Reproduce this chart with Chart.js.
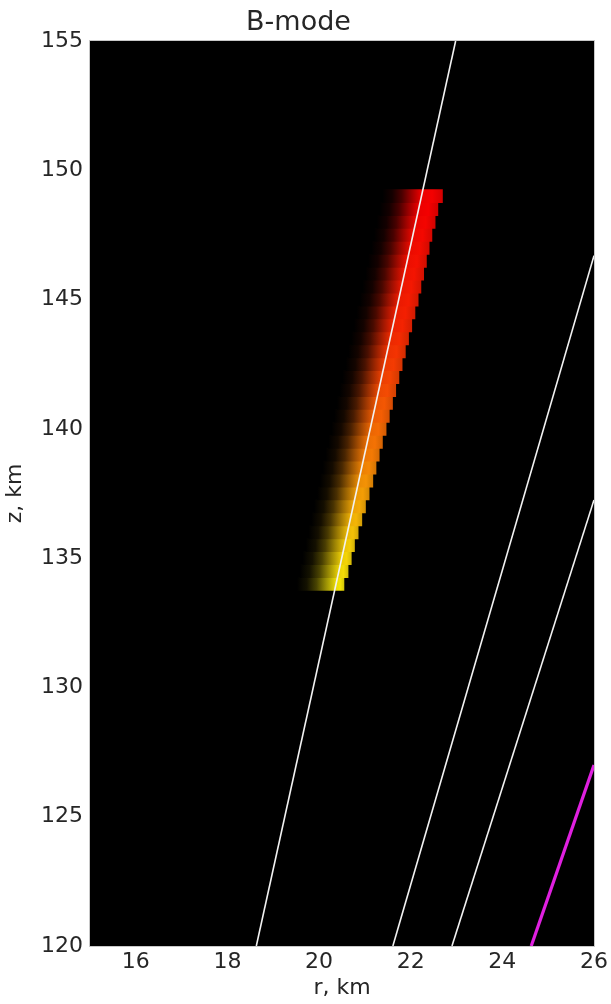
<!DOCTYPE html>
<html>
<head>
<meta charset="utf-8">
<script src="https://cdn.jsdelivr.net/npm/chart.js@4.4.1/dist/chart.umd.min.js"></script>
<style>
  html, body { margin: 0; padding: 0; background: #ffffff; }
  #wrap { width: 611px; height: 1004px; }
</style>
</head>
<body>
<div id="wrap"><canvas id="c" width="611" height="1004"></canvas></div>
<script>
// ---- tick labels ----
const xTicks = [16, 18, 20, 22, 24, 26];
const yTicks = [120, 125, 130, 135, 140, 145, 150, 155];

// ---- rays (r, km / z, km) ----
const ray1R = [18.63, 22.98];
const ray1Z = [120, 155];
const ray2R = [21.61, 26.0];
const ray2Z = [120, 146.7];
const ray3R = [22.90, 26.0];
const ray3Z = [120, 137.25];
const ray4R = [24.63, 26.0];
const ray4Z = [120, 127.0];

// ---- B-mode amplitude band: rows in z ----
const bandZ = [134.0, 134.5, 135.0, 135.5, 136.0, 136.5, 137.0, 137.5, 138.0, 138.5,
               139.0, 139.5, 140.0, 140.5, 141.0, 141.5, 142.0, 142.5, 143.0, 143.5,
               144.0, 144.5, 145.0, 145.5, 146.0, 146.5, 147.0, 147.5, 148.0, 148.5, 149.0];
const bandLeft = [19.52, 19.58, 19.64, 19.71, 19.77, 19.83, 19.89, 19.96, 20.02, 20.08,
                  20.14, 20.20, 20.27, 20.33, 20.39, 20.45, 20.51, 20.58, 20.64, 20.70,
                  20.76, 20.82, 20.89, 20.95, 21.01, 21.07, 21.14, 21.20, 21.26, 21.32, 21.38];
const bandRight = [20.55, 20.64, 20.71, 20.78, 20.86, 20.94, 21.02, 21.10, 21.18, 21.25,
                   21.32, 21.39, 21.47, 21.54, 21.61, 21.68, 21.75, 21.82, 21.89, 21.96,
                   22.03, 22.10, 22.17, 22.23, 22.29, 22.35, 22.41, 22.47, 22.54, 22.60, 22.70];
const bandPeak = [20.37, 20.43, 20.49, 20.56, 20.62, 20.68, 20.74, 20.81, 20.87, 20.93,
                  20.99, 21.05, 21.12, 21.18, 21.24, 21.30, 21.36, 21.43, 21.49, 21.55,
                  21.61, 21.67, 21.74, 21.80, 21.86, 21.92, 21.99, 22.05, 22.11, 22.17, 22.23];
const bandHue = [58, 56, 54, 52, 49, 46, 43, 40, 37, 34,
                 31, 29, 27, 24, 22, 19, 17, 15, 13, 11,
                 9, 8, 7, 6, 5, 4, 3, 2, 1, 0, 0];

function toPts(rs, zs) { return rs.map((r, i) => ({ x: r, y: zs[i] })); }

function rgb(hue, b) {
  const r = Math.round(244 * b);
  const g = Math.round(236 * (hue / 60) * b);
  const bl = Math.round(8 * (hue / 60) * b);
  return `rgb(${r},${g},${bl})`;
}

function bandFill(ctx) {
  const chart = ctx.chart;
  if (ctx.type !== 'data' || !chart.chartArea) return 'rgba(0,0,0,0)';
  const i = ctx.dataIndex;
  const xs = chart.scales.x;
  const x0 = xs.getPixelForValue(bandLeft[i]);
  const x1 = xs.getPixelForValue(bandRight[i]);
  const p = Math.min(0.98, Math.max(0.05, (bandPeak[i] - bandLeft[i]) / (bandRight[i] - bandLeft[i])));
  const h = bandHue[i];
  const g = chart.ctx.createLinearGradient(x0, 0, x1, 0);
  g.addColorStop(0, rgb(h, 0));
  g.addColorStop(p * 0.25, rgb(h, 0.08));
  g.addColorStop(p * 0.5, rgb(h, 0.3));
  g.addColorStop(p * 0.75, rgb(h, 0.64));
  g.addColorStop(p, rgb(h, 0.96));
  g.addColorStop(Math.min(0.99, p + (1 - p) * 0.5), rgb(h, 1));
  g.addColorStop(1, rgb(h, 0.86));
  return g;
}

const blackArea = {
  id: 'blackArea',
  beforeDatasetsDraw(chart) {
    const { ctx, chartArea: a } = chart;
    ctx.save();
    ctx.fillStyle = '#000000';
    ctx.fillRect(a.left, a.top, a.right - a.left, a.bottom - a.top);
    ctx.restore();
  },
  afterDatasetsDraw(chart) {
    const { ctx, chartArea: a } = chart;
    ctx.save();
    ctx.strokeStyle = '#c8c8c8';
    ctx.lineWidth = 1;
    ctx.strokeRect(a.left - 0.5, a.top - 0.5, a.right - a.left + 1, a.bottom - a.top + 1);
    ctx.restore();
  }
};

const FONT = 'DejaVu Sans';
const TXT = '#262626';

new Chart(document.getElementById('c'), {
  data: {
    datasets: [
      {
        type: 'bar',
        indexAxis: 'y',
        data: bandZ.map((z, i) => ({ y: z, x: [bandLeft[i], bandRight[i]] })),
        backgroundColor: bandFill,
        borderWidth: 0,
        barPercentage: 1.0,
        categoryPercentage: 1.06,
        order: 10
      },
      { type: 'line', data: toPts(ray1R, ray1Z), borderColor: '#f2f2f2', borderWidth: 1.6, pointRadius: 0, order: 1 },
      { type: 'line', data: toPts(ray2R, ray2Z), borderColor: '#f2f2f2', borderWidth: 1.6, pointRadius: 0, order: 1 },
      { type: 'line', data: toPts(ray3R, ray3Z), borderColor: '#f2f2f2', borderWidth: 1.6, pointRadius: 0, order: 1 },
      { type: 'line', data: toPts(ray4R, ray4Z), borderColor: '#e020e0', borderWidth: 3.2, pointRadius: 0, order: 1 }
    ]
  },
  options: {
    responsive: false,
    animation: false,
    devicePixelRatio: 1,
    layout: { padding: { left: 0, right: 14, top: 0, bottom: 0 } },
    plugins: {
      legend: { display: false },
      tooltip: { enabled: false },
      title: {
        display: true,
        text: 'B-mode',
        color: TXT,
        font: { family: FONT, size: 27, weight: 'normal', lineHeight: 1.2 },
        padding: { top: 6.5, bottom: 2.1 }
      }
    },
    scales: {
      x: {
        type: 'linear',
        min: 15, max: 26,
        offset: false,
        grid: { display: false, drawTicks: false, offset: false },
        border: { display: false },
        afterBuildTicks: s => { s.ticks = xTicks.map(v => ({ value: v })); },
        afterFit: s => { s.height = 58; },
        ticks: {
          color: TXT, padding: 3,
          font: { family: FONT, size: 22, lineHeight: 1.2 },
          maxRotation: 0, autoSkip: false
        },
        title: {
          display: true, text: 'r, km', color: TXT,
          font: { family: FONT, size: 22, lineHeight: 1.2 },
          padding: { top: 0, bottom: 3 }
        }
      },
      y: {
        type: 'linear',
        min: 120, max: 155,
        offset: false,
        grid: { display: false, drawTicks: false, offset: false },
        border: { display: false },
        afterBuildTicks: s => { s.ticks = yTicks.map(v => ({ value: v })); },
        afterFit: s => { s.width = 90; },
        ticks: {
          color: TXT, padding: 7,
          font: { family: FONT, size: 22, lineHeight: 1.2 },
          autoSkip: false
        },
        title: {
          display: true, text: 'z, km', color: TXT,
          font: { family: FONT, size: 22, lineHeight: 1.2 },
          padding: { top: 2, bottom: 0 }
        }
      }
    }
  },
  plugins: [blackArea]
});
</script>
</body>
</html>
